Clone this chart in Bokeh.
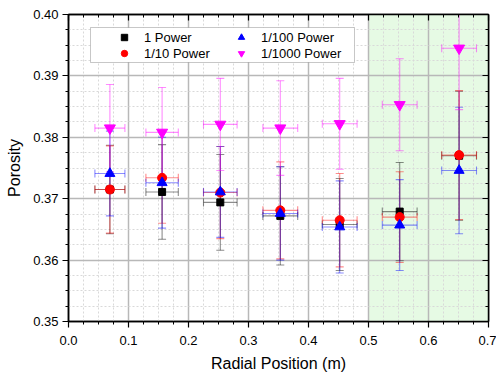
import numpy as np
from bokeh.plotting import figure
from bokeh.models import (ColumnDataSource, Whisker, TeeHead, BoxAnnotation, Legend,
                          LegendItem, LinearAxis, FixedTicker, Range1d,
                          CustomJSTickFormatter)
from bokeh.embed import file_html
from bokeh.resources import INLINE

# ---- data ----
radial = [0.069, 0.156, 0.253, 0.353, 0.452, 0.552, 0.651]
radial_err = [0.025, 0.027, 0.028, 0.029, 0.029, 0.029, 0.029]

series_names = ["1 Power", "1/10 Power", "1/100 Power", "1/1000 Power"]
p1 = [0.3715, 0.3711, 0.3694, 0.3672, 0.3658, 0.3679, 0.3770]
p1_err = [0.0072, 0.0077, 0.0078, 0.0080, 0.0075, 0.0080, 0.0105]
p10 = [0.3715, 0.3734, 0.3710, 0.3681, 0.3665, 0.3670, 0.3771]
p10_err = [0.0071, 0.0074, 0.0075, 0.0079, 0.0076, 0.0074, 0.0105]
p100 = [0.3741, 0.3726, 0.3711, 0.3676, 0.3654, 0.3657, 0.3746]
p100_err = [0.0069, 0.0074, 0.0074, 0.0076, 0.0075, 0.0074, 0.0103]
p1000 = [0.3815, 0.3808, 0.3821, 0.3815, 0.3822, 0.3853, 0.3945]
p1000_err = [0.0071, 0.0073, 0.0075, 0.0077, 0.0074, 0.0075, 0.0100]

x_ticks = [0.0, 0.1, 0.2, 0.3, 0.4, 0.5, 0.6, 0.7]
y_ticks = [0.35, 0.36, 0.37, 0.38, 0.39, 0.40]
shaded = [0.5, 0.7]

FONT = "Liberation Sans"


def minor_of(ticks, n=4):
    out = []
    for a, b in zip(ticks[:-1], ticks[1:]):
        out.extend(np.linspace(a, b, n + 1)[1:-1].tolist())
    return out


def make_ticker(ticks):
    return FixedTicker(ticks=ticks, minor_ticks=minor_of(ticks))


p = figure(width=496, height=374, output_backend="svg", toolbar_location=None,
           x_range=Range1d(x_ticks[0], x_ticks[-1]), y_range=Range1d(y_ticks[0], y_ticks[-1]),
           min_border_left=68, min_border_top=14, min_border_right=8, min_border_bottom=50)
p.background_fill_color = "white"
p.border_fill_color = "white"
p.outline_line_color = "black"
p.outline_line_width = 1.5

# shaded region
p.add_layout(BoxAnnotation(left=shaded[0], right=shaded[1], fill_color="#e6fae4",
                           fill_alpha=1.0, line_alpha=0, level="image"))

xt = make_ticker(x_ticks)
yt = make_ticker(y_ticks)
p.xaxis.ticker = xt
p.yaxis.ticker = yt
p.xaxis.formatter = CustomJSTickFormatter(code="return tick.toFixed(1);")
p.yaxis.formatter = CustomJSTickFormatter(code="return tick.toFixed(2);")

for ax in (p.xaxis, p.yaxis):
    ax.axis_line_color = "black"
    ax.axis_line_width = 1.5
    ax.major_tick_line_color = "black"
    ax.minor_tick_line_color = "black"
    ax.major_tick_line_width = 1.2
    ax.major_tick_out = 6
    ax.major_tick_in = 0
    ax.minor_tick_out = 3
    ax.minor_tick_in = 0
    ax.major_label_text_font = FONT
    ax.major_label_text_font_size = "13px"
    ax.major_label_text_color = "black"
    ax.axis_label_text_font = FONT
    ax.axis_label_text_font_size = "16px"
    ax.axis_label_text_font_style = "normal"
    ax.axis_label_text_color = "black"

p.xaxis.axis_label = "Radial Position (m)"
p.yaxis.axis_label = "Porosity"
p.xaxis.major_label_standoff = 8
p.xaxis.axis_label_standoff = 7
p.yaxis.major_label_standoff = 4
p.yaxis.axis_label_standoff = 7

# mirrored axes (top / right) with inward ticks, no labels
blank = CustomJSTickFormatter(code="return '';")
top = LinearAxis(ticker=make_ticker(x_ticks), formatter=blank)
right = LinearAxis(ticker=make_ticker(y_ticks), formatter=blank)
for ax in (top, right):
    ax.axis_line_color = "black"
    ax.axis_line_width = 1.5
    ax.major_tick_in = 6
    ax.major_tick_out = 0
    ax.minor_tick_in = 3
    ax.minor_tick_out = 0
    ax.major_label_text_font_size = "1px"
    ax.major_label_standoff = 0
    ax.major_tick_line_width = 1.2
p.add_layout(top, "above")
p.add_layout(right, "right")

# grids
for g, t in ((p.xgrid, xt), (p.ygrid, yt)):
    g.ticker = t
    g.grid_line_color = "#b8b8b8"
    g.grid_line_width = 1.5
    g.minor_grid_line_color = "#d9d9d9"
    g.minor_grid_line_dash = "2 2"
    g.minor_grid_line_width = 1

colors = ["black", "red", "blue", "magenta"]
markers = ["square", "circle", "triangle", "inverted_triangle"]
sizes = [7, 9, 10, 11]
vals = [p1, p10, p100, p1000]
errs = [p1_err, p10_err, p100_err, p1000_err]

rx = np.array(radial)
rxe = np.array(radial_err)
renderers = []
for name, c, m, s, v, e in zip(series_names, colors, markers, sizes, vals, errs):
    v = np.array(v)
    e = np.array(e)
    src = ColumnDataSource(dict(x=rx, y=v, yl=v - e, yu=v + e, xl=rx - rxe, xu=rx + rxe))
    for dim, base, lo, hi in (("height", "x", "yl", "yu"), ("width", "y", "xl", "xu")):
        p.add_layout(Whisker(source=src, base=base, lower=lo, upper=hi, dimension=dim,
                             line_color=c, line_alpha=0.45, line_width=1.1,
                             upper_head=TeeHead(size=8, line_color=c, line_alpha=0.45, line_width=1.1),
                             lower_head=TeeHead(size=8, line_color=c, line_alpha=0.45, line_width=1.1)))
    r = p.scatter("x", "y", source=src, marker=m, size=s, fill_color=c, line_color=c)
    renderers.append(r)

# legend frame (screen units, relative to the plot frame, y measured upward)
p.add_layout(BoxAnnotation(left=22, right=286, top=294, bottom=259,
                           left_units="screen", right_units="screen",
                           top_units="screen", bottom_units="screen",
                           fill_color="white", fill_alpha=1, line_color="#444444",
                           line_width=1, level="annotation"))

legend = Legend(items=[LegendItem(label=n, renderers=[r]) for n, r in zip(series_names, renderers)],
                ncols=2, location=(46, 260), padding=0, spacing=0,
                glyph_width=20, glyph_height=16, label_height=16, label_standoff=10,
                label_width=87,
                border_line_alpha=0, background_fill_alpha=0,
                label_text_font=FONT, label_text_font_size="13px", label_text_color="black")
p.add_layout(legend, "center")

open("out.html", "w").write(file_html(p, INLINE))
